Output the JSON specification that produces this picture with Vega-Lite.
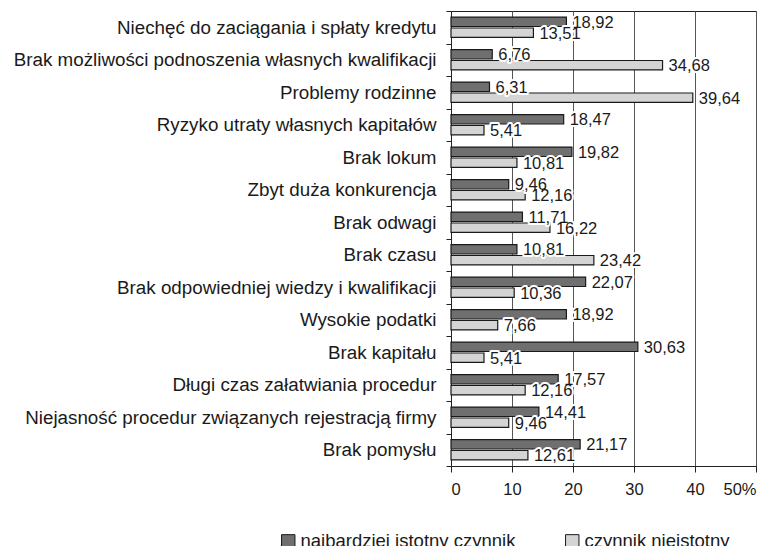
{
  "$schema": "https://vega.github.io/schema/vega-lite/v6.json",
  "width": 305,
  "height": 455,
  "padding": {"left": 13, "top": 2, "right": 5, "bottom": 5},
  "config": {
    "font": "Liberation Sans",
    "locale": {"number": {"decimal": ",", "thousands": " ", "grouping": [3], "currency": ["", " zł"]}},
    "view": {"stroke": "#222", "strokeWidth": 1}
  },
  "data": {
    "values": [
      {"kategoria": "Niechęć do zaciągania i spłaty kredytu", "seria": "najbardziej istotny czynnik", "wartosc": 18.92},
      {"kategoria": "Niechęć do zaciągania i spłaty kredytu", "seria": "czynnik nieistotny", "wartosc": 13.51},
      {"kategoria": "Brak możliwości podnoszenia własnych kwalifikacji", "seria": "najbardziej istotny czynnik", "wartosc": 6.76},
      {"kategoria": "Brak możliwości podnoszenia własnych kwalifikacji", "seria": "czynnik nieistotny", "wartosc": 34.68},
      {"kategoria": "Problemy rodzinne", "seria": "najbardziej istotny czynnik", "wartosc": 6.31},
      {"kategoria": "Problemy rodzinne", "seria": "czynnik nieistotny", "wartosc": 39.64},
      {"kategoria": "Ryzyko utraty własnych kapitałów", "seria": "najbardziej istotny czynnik", "wartosc": 18.47},
      {"kategoria": "Ryzyko utraty własnych kapitałów", "seria": "czynnik nieistotny", "wartosc": 5.41},
      {"kategoria": "Brak lokum", "seria": "najbardziej istotny czynnik", "wartosc": 19.82},
      {"kategoria": "Brak lokum", "seria": "czynnik nieistotny", "wartosc": 10.81},
      {"kategoria": "Zbyt duża konkurencja", "seria": "najbardziej istotny czynnik", "wartosc": 9.46},
      {"kategoria": "Zbyt duża konkurencja", "seria": "czynnik nieistotny", "wartosc": 12.16},
      {"kategoria": "Brak odwagi", "seria": "najbardziej istotny czynnik", "wartosc": 11.71},
      {"kategoria": "Brak odwagi", "seria": "czynnik nieistotny", "wartosc": 16.22},
      {"kategoria": "Brak czasu", "seria": "najbardziej istotny czynnik", "wartosc": 10.81},
      {"kategoria": "Brak czasu", "seria": "czynnik nieistotny", "wartosc": 23.42},
      {"kategoria": "Brak odpowiedniej wiedzy i kwalifikacji", "seria": "najbardziej istotny czynnik", "wartosc": 22.07},
      {"kategoria": "Brak odpowiedniej wiedzy i kwalifikacji", "seria": "czynnik nieistotny", "wartosc": 10.36},
      {"kategoria": "Wysokie podatki", "seria": "najbardziej istotny czynnik", "wartosc": 18.92},
      {"kategoria": "Wysokie podatki", "seria": "czynnik nieistotny", "wartosc": 7.66},
      {"kategoria": "Brak kapitału", "seria": "najbardziej istotny czynnik", "wartosc": 30.63},
      {"kategoria": "Brak kapitału", "seria": "czynnik nieistotny", "wartosc": 5.41},
      {"kategoria": "Długi czas załatwiania procedur", "seria": "najbardziej istotny czynnik", "wartosc": 17.57},
      {"kategoria": "Długi czas załatwiania procedur", "seria": "czynnik nieistotny", "wartosc": 12.16},
      {"kategoria": "Niejasność procedur związanych rejestracją firmy", "seria": "najbardziej istotny czynnik", "wartosc": 14.41},
      {"kategoria": "Niejasność procedur związanych rejestracją firmy", "seria": "czynnik nieistotny", "wartosc": 9.46},
      {"kategoria": "Brak pomysłu", "seria": "najbardziej istotny czynnik", "wartosc": 21.17},
      {"kategoria": "Brak pomysłu", "seria": "czynnik nieistotny", "wartosc": 12.61}
    ]
  },
  "encoding": {
    "y": {
      "field": "kategoria",
      "type": "nominal",
      "sort": null,
      "scale": {"paddingInner": 0, "paddingOuter": 0},
      "axis": {
        "title": null,
        "labelFontSize": 18.8,
        "labelColor": "#1a1a1a",
        "labelLimit": 0,
        "labelPadding": 10,
        "tickBand": "extent",
        "tickSize": 5,
        "tickColor": "#222",
        "domainColor": "#222",
        "grid": false
      }
    },
    "yOffset": {
      "field": "seria",
      "type": "nominal",
      "sort": ["najbardziej istotny czynnik", "czynnik nieistotny"],
      "scale": {"paddingInner": 0.14, "paddingOuter": 0.55}
    },
    "x": {
      "field": "wartosc",
      "type": "quantitative",
      "scale": {"domain": [0, 50], "nice": false},
      "axis": {
        "title": null,
        "values": [0, 10, 20, 30, 40, 50],
        "format": "d",
        "labelExpr": "datum.value == 50 ? '50%' : datum.label",
        "labelFontSize": 16.5,
        "labelColor": "#1a1a1a",
        "labelPadding": 9,
        "tickSize": 6,
        "tickColor": "#222",
        "domainColor": "#222",
        "grid": true,
        "gridColor": "#555",
        "gridOpacity": 1,
        "gridWidth": 1
      }
    }
  },
  "layer": [
    {
      "mark": {"type": "bar", "stroke": "#1a1a1a", "strokeWidth": 1.2},
      "encoding": {
        "fill": {
          "field": "seria",
          "type": "nominal",
          "sort": ["najbardziej istotny czynnik", "czynnik nieistotny"],
          "scale": {"domain": ["najbardziej istotny czynnik", "czynnik nieistotny"], "range": ["#6f6f6f", "#d4d4d4"]},
          "legend": {
            "title": null,
            "orient": "none",
            "direction": "horizontal",
            "legendX": -172,
            "legendY": 521,
            "symbolType": "square",
            "symbolSize": 180,
            "symbolStrokeColor": "#1a1a1a",
            "symbolStrokeWidth": 1,
            "labelFontSize": 18.5,
            "labelLimit": 0,
            "labelColor": "#1a1a1a",
            "columnPadding": 47,
            "labelOffset": 3
          }
        }
      }
    },
    {
      "mark": {"type": "text", "align": "left", "baseline": "middle", "dx": 6, "dy": 1, "fontSize": 16.5, "stroke": "white", "strokeWidth": 4, "strokeJoin": "round"},
      "encoding": {"text": {"field": "wartosc", "type": "quantitative", "format": ".2f"}}
    },
    {
      "mark": {"type": "text", "align": "left", "baseline": "middle", "dx": 6, "dy": 1, "fontSize": 16.5, "fill": "#1a1a1a"},
      "encoding": {"text": {"field": "wartosc", "type": "quantitative", "format": ".2f"}}
    }
  ]
}
